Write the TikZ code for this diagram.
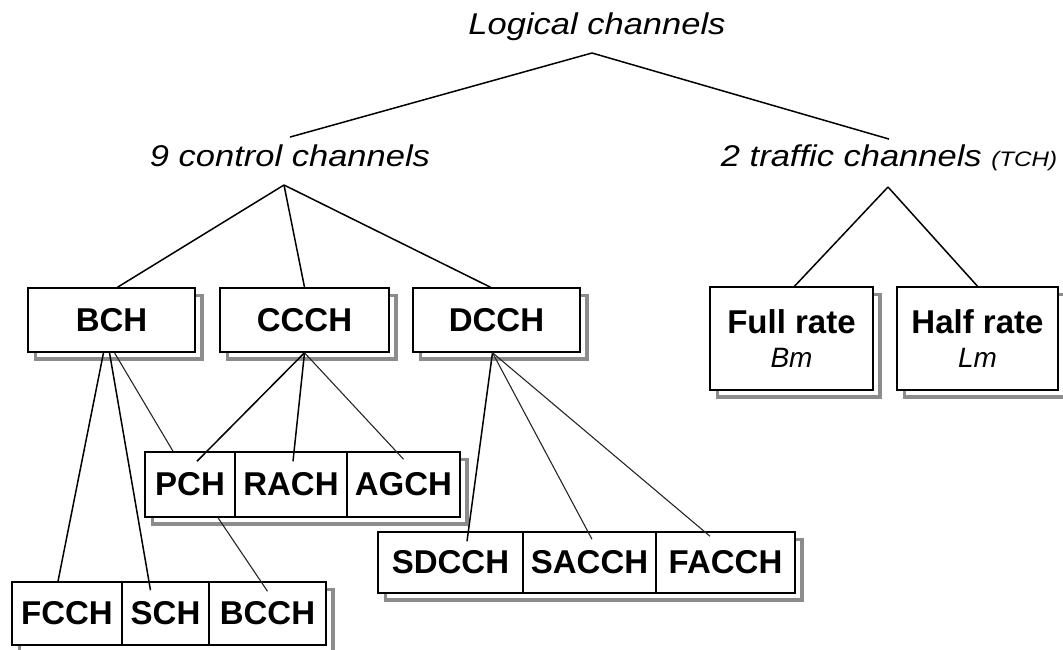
\documentclass[tikz,border=0pt]{standalone}
\usepackage{fontspec}
\setmainfont{Liberation Sans}
\newfontfamily\labfont[FakeStretch=1.15]{Liberation Sans}
\usetikzlibrary{backgrounds}
\tikzset{
  cell/.style={draw=black, line width=1.5pt, fill=white, inner sep=0pt, align=center,
    font=\fontsize{33}{36}\selectfont\bfseries},
  lab/.style={inner sep=0pt, anchor=base, font=\labfont\itshape\fontsize{30}{34}\selectfont},
  link/.style={draw=black, line width=1.5pt},
  thinlink/.style={draw=black!85, line width=1.1pt},
  shadowfill/.style={fill=black!45}
}
\begin{document}
\begin{tikzpicture}[x=1pt,y=-1pt]
\useasboundingbox (0,0) rectangle (1063,650);
% top labels
\node[lab] (logical) at (597,35) {Logical channels};
\node[lab] (ctrl) at (290,167) {9 control channels};
\node[lab] (tch) at (889,167) {2 traffic channels {\fontsize{21}{24}\selectfont(TCH)}};
\coordinate (la) at (592,53);
\coordinate (ca) at (284,185);
\coordinate (ta) at (888,187);
% level 2 boxes
\node[cell, minimum width=167, minimum height=64] (bch) at (111.5,320) {BCH};
\node[cell, minimum width=169, minimum height=64] (ccch) at (304.5,320) {CCCH};
\node[cell, minimum width=167, minimum height=64] (dcch) at (496.5,320) {DCCH};
\node[cell, minimum width=163, minimum height=103] (full) at (791.5,338.5)
  {Full rate\\[-2pt]{\fontsize{28}{30}\selectfont\mdseries\itshape Bm}};
\node[cell, minimum width=161, minimum height=103] (half) at (977.5,338.5)
  {Half rate\\[-2pt]{\fontsize{28}{30}\selectfont\mdseries\itshape Lm}};
% paging group
\node[cell, minimum width=90, minimum height=65] (pch) at (190,484.5) {PCH};
\node[cell, minimum width=112, minimum height=65] (rach) at (291,484.5) {RACH};
\node[cell, minimum width=113, minimum height=65] (agch) at (403.5,484.5) {AGCH};
% broadcast group
\node[cell, minimum width=110, minimum height=63] (fcch) at (67,613.5) {FCCH};
\node[cell, minimum width=87, minimum height=63] (sch) at (165.5,613.5) {SCH};
\node[cell, minimum width=117, minimum height=63] (bcch) at (267.5,613.5) {BCCH};
% dedicated group
\node[cell, minimum width=145, minimum height=61] (sdcch) at (450.5,562.5) {SDCCH};
\node[cell, minimum width=133, minimum height=61] (sacch) at (589.5,562.5) {SACCH};
\node[cell, minimum width=139, minimum height=61] (facch) at (725.5,562.5) {FACCH};
% shadows
\begin{scope}[on background layer]
\foreach \a/\b in {bch/bch, ccch/ccch, dcch/dcch, full/full, half/half, pch/agch, fcch/bcch, sdcch/facch}{
  \fill[shadowfill] ([shift={(7,7)}]\a.north west) rectangle ([shift={(8,8)}]\b.south east);
  \fill[white] ([shift={(10,10)}]\a.north west) rectangle ([shift={(4,4)}]\b.south east);
}
\end{scope}
% top tree
\draw[link] (la) -- ([yshift=8pt]ctrl.north);
\draw[link] (la) -- ([yshift=6pt]tch.north);
\draw[link] (ca) -- ([xshift=6pt]bch.north);
\draw[link] (ca) -- (ccch.north);
\draw[link] (ca) -- ([xshift=-6pt]dcch.north);
\draw[link] (ta) -- ([xshift=3pt]full.north);
\draw[link] (ta) -- (half.north);
% BCH children
\draw[link] ([xshift=-8pt]bch.south) -- ([xshift=-9pt]fcch.north);
\draw[link] ([xshift=-2pt]bch.south) -- ([shift={(-15pt,-9pt)}]sch.north);
\draw[thinlink] ([xshift=3pt]bch.south) -- ([xshift=-17pt]pch.north);
\draw[thinlink] ([xshift=28pt]pch.south) -- ([yshift=-10pt]bcch.north);
% CCCH children
\draw[link] (ccch.south) -- ([shift={(7pt,-10pt)}]pch.north);
\draw[link] (ccch.south) -- ([shift={(2pt,-10pt)}]rach.north);
\draw[thinlink] (ccch.south) -- ([yshift=-8pt]agch.north);
% DCCH children
\draw[link] ([xshift=-4pt]dcch.south) -- ([shift={(16.5pt,-10pt)}]sdcch.north);
\draw[thinlink] ([xshift=-4pt]dcch.south) -- ([shift={(2.5pt,-8pt)}]sacch.north);
\draw[thinlink] ([xshift=-4pt]dcch.south) -- ([shift={(-15.5pt,-5pt)}]facch.north);
\end{tikzpicture}
\end{document}
